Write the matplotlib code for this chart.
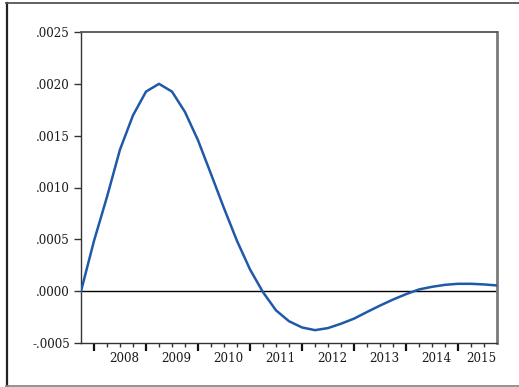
import matplotlib
matplotlib.use("Agg")
import matplotlib.pyplot as plt
from matplotlib.lines import Line2D

# Quarterly observations, 2007Q4 .. 2015Q4
values = [
    0.0, 0.000485, 0.00091, 0.001366, 0.001696, 0.001925, 0.0020, 0.001925,
    0.001728, 0.001456, 0.00113, 0.0008, 0.000485, 0.00021, -0.00001,
    -0.000185, -0.00029, -0.00035, -0.000376, -0.000356, -0.000314,
    -0.000265, -0.000201, -0.000139, -0.000081, -0.000029, 0.0000165,
    0.000042, 0.000061, 0.000071, 0.000071, 0.000065, 0.000055,
]
year_labels = ["2008", "2009", "2010", "2011", "2012", "2013", "2014", "2015"]
ytick_values = [-0.0005, 0.0, 0.0005, 0.0010, 0.0015, 0.0020, 0.0025]
ytick_labels = ["-.0005", ".0000", ".0005", ".0010", ".0015", ".0020", ".0025"]

W, H = 519, 387
fig = plt.figure(figsize=(W / 100, H / 100), dpi=100)
plt.rcParams["font.family"] = ["DejaVu Serif"]

ax = fig.add_axes([81 / W, (H - 343) / H, (497 - 81) / W, (343 - 32) / H])

x = list(range(len(values)))
ax.plot(x, values, color="#1f5aa8", lw=1.8, solid_joinstyle="round", zorder=3)
ax.axhline(0, color="black", lw=1.0, zorder=2)

ax.set_xlim(0, len(values) - 1)
ax.set_ylim(-0.0005, 0.0025)

FS = 8.6
ax.set_yticks(ytick_values)
ax.set_yticklabels(ytick_labels, fontsize=FS, color="#1a1a1a")
ax.tick_params(axis="y", direction="out", length=5, width=1, color="#333333", pad=3)

# Quarter ticks (minor) and year-start ticks (major)
major = [1 + 4 * k for k in range(len(year_labels))]
minor = [i for i in x if i not in major and 0 < i < len(values) - 1]
ax.set_xticks(major)
ax.set_xticklabels([])
ax.set_xticks(minor, minor=True)
ax.tick_params(axis="x", which="major", direction="out", length=6, width=1.6, color="#111111")
ax.tick_params(axis="x", which="minor", direction="out", length=3, width=1, color="#333333")

# Year labels centred on each year's visible span
xmax = len(values) - 1
for k, lab in enumerate(year_labels):
    start = major[k]
    end = min(start + 4, xmax)
    ax.text((start + end) / 2 + 0.3, -0.00059, lab, ha="center", va="top",
            fontsize=FS, color="#1a1a1a", transform=ax.transData, clip_on=False)

for side in ("left", "bottom"):
    ax.spines[side].set_color("#333333")
    ax.spines[side].set_linewidth(1.0)
ax.spines["top"].set_color("#555555")
ax.spines["top"].set_linewidth(1.3)
ax.spines["right"].set_color("#7a7a7a")
ax.spines["right"].set_linewidth(2.0)

# Outer frame
def fx(px):
    return px / W

def fy(py):
    return (H - py) / H

fig.add_artist(Line2D([fx(6.5), fx(6.5)], [fy(3), fy(386)], color="#222222", lw=1.6))
fig.add_artist(Line2D([fx(6), fx(519)], [fy(3), fy(3)], color="#555555", lw=1.3))
fig.add_artist(Line2D([fx(6), fx(519)], [fy(386), fy(386)], color="#8a8a8a", lw=1.3))

fig.savefig("out.png", dpi=100)
